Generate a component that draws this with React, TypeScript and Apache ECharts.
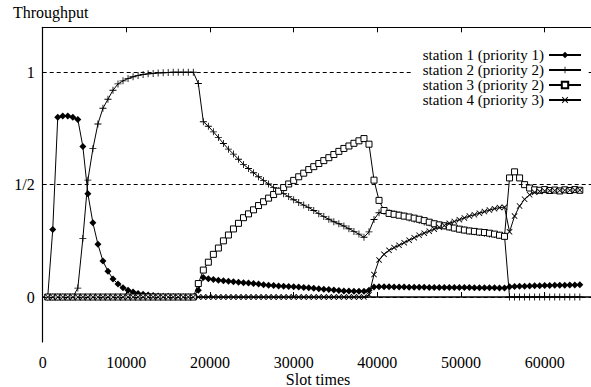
import React, { useEffect, useRef } from "react";
import * as echarts from "echarts";

// Sampling interval of the simulation (slot times between samples)
const SAMPLE_STEP = 600;

const seriesNames = [
  "station 1 (priority 1)",
  "station 2 (priority 2)",
  "station 3 (priority 2)",
  "station 4 (priority 3)",
];

const station1 = [
  0, 0.30, 0.80, 0.805, 0.805, 0.80, 0.79, 0.67, 0.46, 0.33,
  0.235, 0.16, 0.115, 0.08, 0.058, 0.041, 0.03, 0.022, 0.016, 0.012,
  0.009, 0.007, 0.005, 0.004, 0.003, 0.002, 0.002, 0.001, 0.001, 0.001,
  0.03, 0.087, 0.081, 0.078, 0.075, 0.072, 0.07, 0.068, 0.066, 0.064,
  0.062, 0.06, 0.058, 0.055, 0.053, 0.051, 0.049, 0.048, 0.047, 0.046,
  0.045, 0.043, 0.041, 0.039, 0.037, 0.035, 0.033, 0.031, 0.029, 0.027,
  0.027, 0.026, 0.026, 0.026, 0.03, 0.045, 0.046, 0.046, 0.046, 0.045,
  0.045, 0.045, 0.044, 0.044, 0.044, 0.044, 0.043, 0.043, 0.043, 0.043,
  0.043, 0.042, 0.042, 0.042, 0.042, 0.041, 0.041, 0.041, 0.041, 0.041,
  0.04, 0.04, 0.046, 0.047, 0.048, 0.048, 0.049, 0.05, 0.05, 0.051,
  0.051, 0.052, 0.053, 0.053, 0.054, 0.054, 0.055,
];

const station2 = [
  0, 0, 0, 0, 0, 0, 0.04, 0.26, 0.52, 0.66,
  0.77, 0.84, 0.88, 0.92, 0.948, 0.962, 0.972, 0.98, 0.986, 0.99,
  0.993, 0.995, 0.997, 0.998, 0.999, 1, 1, 1, 1, 1,
  0.95, 0.78, 0.76, 0.735, 0.71, 0.683, 0.658, 0.636, 0.613, 0.59,
  0.572, 0.553, 0.535, 0.519, 0.503, 0.487, 0.473, 0.46, 0.447, 0.433,
  0.421, 0.409, 0.398, 0.385, 0.371, 0.358, 0.346, 0.335, 0.326, 0.316,
  0.304, 0.292, 0.28, 0.266, 0.29, 0.345, 0.375, 0.382, 0.375, 0.37,
  0.366, 0.36, 0.352, 0.346, 0.34, 0.334, 0.33, 0.325, 0.32, 0.316,
  0.311, 0.306, 0.302, 0.298, 0.294, 0.29, 0.287, 0.284, 0.281, 0.278,
  0.275, 0.272, 0, 0, 0, 0, 0, 0, 0, 0,
  0, 0, 0, 0, 0, 0, 0,
];

const station3 = [
  0, 0, 0, 0, 0, 0, 0, 0, 0, 0,
  0, 0, 0, 0, 0, 0, 0, 0, 0, 0,
  0, 0, 0, 0, 0, 0, 0, 0, 0, 0,
  0.06, 0.12, 0.155, 0.19, 0.218, 0.25, 0.276, 0.303, 0.328, 0.353,
  0.37, 0.388, 0.407, 0.424, 0.44, 0.456, 0.471, 0.487, 0.503, 0.519,
  0.535, 0.551, 0.567, 0.58, 0.594, 0.607, 0.62, 0.634, 0.648, 0.661,
  0.672, 0.684, 0.695, 0.705, 0.68, 0.52, 0.43, 0.385, 0.372, 0.368,
  0.364, 0.36, 0.356, 0.351, 0.346, 0.34, 0.333, 0.326, 0.321, 0.317,
  0.312, 0.307, 0.302, 0.298, 0.294, 0.292, 0.289, 0.287, 0.284, 0.28,
  0.275, 0.27, 0.53, 0.557, 0.53, 0.5, 0.485, 0.477, 0.475, 0.478,
  0.474, 0.476, 0.472, 0.477, 0.474, 0.478, 0.475,
];

const station4 = [
  0, 0, 0, 0, 0, 0, 0, 0, 0, 0,
  0, 0, 0, 0, 0, 0, 0, 0, 0, 0,
  0, 0, 0, 0, 0, 0, 0, 0, 0, 0,
  0, 0, 0, 0, 0, 0, 0, 0, 0, 0,
  0, 0, 0, 0, 0, 0, 0, 0, 0, 0,
  0, 0, 0, 0, 0, 0, 0, 0, 0, 0,
  0, 0, 0, 0, 0.01, 0.1, 0.165, 0.19, 0.208, 0.22,
  0.23, 0.242, 0.253, 0.264, 0.275, 0.284, 0.293, 0.302, 0.31, 0.318,
  0.328, 0.336, 0.344, 0.352, 0.36, 0.366, 0.373, 0.38, 0.387, 0.393,
  0.398, 0.4, 0.29, 0.36, 0.405, 0.435, 0.455, 0.466, 0.47, 0.472,
  0.473, 0.474, 0.474, 0.475, 0.475, 0.476, 0.476,
];

const slotTimes = station1.map((_, i) => (i + 1) * SAMPLE_STEP);

const xMin = 0;
const xMax = 65536;
const xInterval = 10000;
const yMin = -0.2;
const yMax = 1.2;
const yTickLabels: [number, string][] = [
  [0, "0"],
  [0.5, "1/2"],
  [1, "1"],
];
const gridLevels = [0, 0.5, 1];

const FONT = "Liberation Serif, serif";

const PLUS =
  "path://M-0.6,-5H0.6V-0.6H5V0.6H0.6V5H-0.6V0.6H-5V-0.6H-0.6Z";
const CROSS =
  "path://M-4,-3.2L-3.2,-4L0,-0.8L3.2,-4L4,-3.2L0.8,0L4,3.2L3.2,4L0,0.8L-3.2,4L-4,3.2L-0.8,0Z";

export default function App() {
  const ref = useRef<HTMLDivElement>(null);

  useEffect(() => {
    if (!ref.current) return;
    const chart = echarts.init(ref.current, undefined, { renderer: "svg" });

    const pair = (arr: number[]) => arr.map((v, i) => [slotTimes[i], v]);

    const base = {
      type: "line",
      silent: true,
      lineStyle: { color: "#000", width: 1 },
      emphasis: { disabled: true },
    };

    chart.setOption({
      animation: false,
      grid: { left: 42.7, top: 27.3, width: 557.3, height: 314.7 },
      xAxis: [
        {
          type: "value",
          position: "bottom",
          min: xMin,
          max: xMax,
          interval: xInterval,
          axisLine: { show: true, lineStyle: { color: "#000", width: 1.6 } },
          axisTick: { show: true, inside: true, length: 5, lineStyle: { color: "#000" } },
          axisLabel: {
            show: true,
            margin: 12,
            color: "#000",
            fontFamily: FONT,
            fontSize: 16,
            showMaxLabel: false,
            formatter: (v: number) => String(v),
          },
          splitLine: { show: false },
        },
        {
          type: "value",
          position: "top",
          min: xMin,
          max: xMax,
          interval: xInterval,
          axisLine: { show: true, lineStyle: { color: "#000", width: 1 } },
          axisTick: { show: true, inside: true, length: 5, lineStyle: { color: "#000" } },
          axisLabel: { show: false },
          splitLine: { show: false },
        },
      ],
      yAxis: {
        type: "value",
        min: yMin,
        max: yMax,
        interval: 0.1,
        axisLine: { show: true, lineStyle: { color: "#000", width: 1.2 } },
        axisTick: { show: false },
        axisLabel: {
          margin: 8,
          color: "#000",
          fontFamily: FONT,
          fontSize: 16,
          formatter: (v: number) => {
            const hit = yTickLabels.find((t) => Math.abs(t[0] - v) < 1e-6);
            return hit ? hit[1] : "";
          },
        },
        splitLine: { show: false },
      },
      legend: {
        orient: "vertical",
        right: 5,
        top: 45.5,
        z: 20,
        align: "right",
        itemWidth: 32,
        itemHeight: 8,
        itemGap: 0,
        backgroundColor: "#fff",
        padding: [2, 4, 2, 10],
        selectedMode: false,
        textStyle: { fontFamily: FONT, fontSize: 15, color: "#000" },
        data: seriesNames,
      },
      graphic: [
        {
          type: "text",
          left: 13,
          top: 4,
          style: { text: "Throughput", fontFamily: FONT, fontSize: 16, fill: "#000" },
        },
        {
          type: "text",
          x: 318,
          y: 379,
          style: {
            text: "Slot times",
            fontFamily: FONT,
            fontSize: 16,
            fill: "#000",
            align: "center",
            verticalAlign: "middle",
          },
        },
      ],
      series: [
        {
          ...base,
          name: seriesNames[0],
          data: pair(station1),
          symbol: "diamond",
          symbolSize: 7,
          itemStyle: { color: "#000" },
          markLine: {
            silent: true,
            symbol: "none",
            label: { show: false },
            lineStyle: { color: "#000", width: 1, type: [4, 3] },
            data: gridLevels.map((v) => ({ yAxis: v })),
          },
        },
        {
          ...base,
          name: seriesNames[1],
          data: pair(station2),
          symbol: PLUS,
          symbolSize: 7,
          itemStyle: { color: "#000" },
        },
        {
          ...base,
          name: seriesNames[2],
          data: pair(station3),
          symbol: "rect",
          symbolSize: 6,
          itemStyle: { color: "#fff", borderColor: "#000", borderWidth: 1 },
        },
        {
          ...base,
          name: seriesNames[3],
          data: pair(station4),
          symbol: CROSS,
          symbolSize: 6,
          itemStyle: { color: "#000" },
        },
      ],
    });

    return () => chart.dispose();
  }, []);

  return (
    <div
      ref={ref}
      style={{ position: "fixed", left: 0, top: 0, width: 591, height: 387, background: "#fff" }}
    />
  );
}
